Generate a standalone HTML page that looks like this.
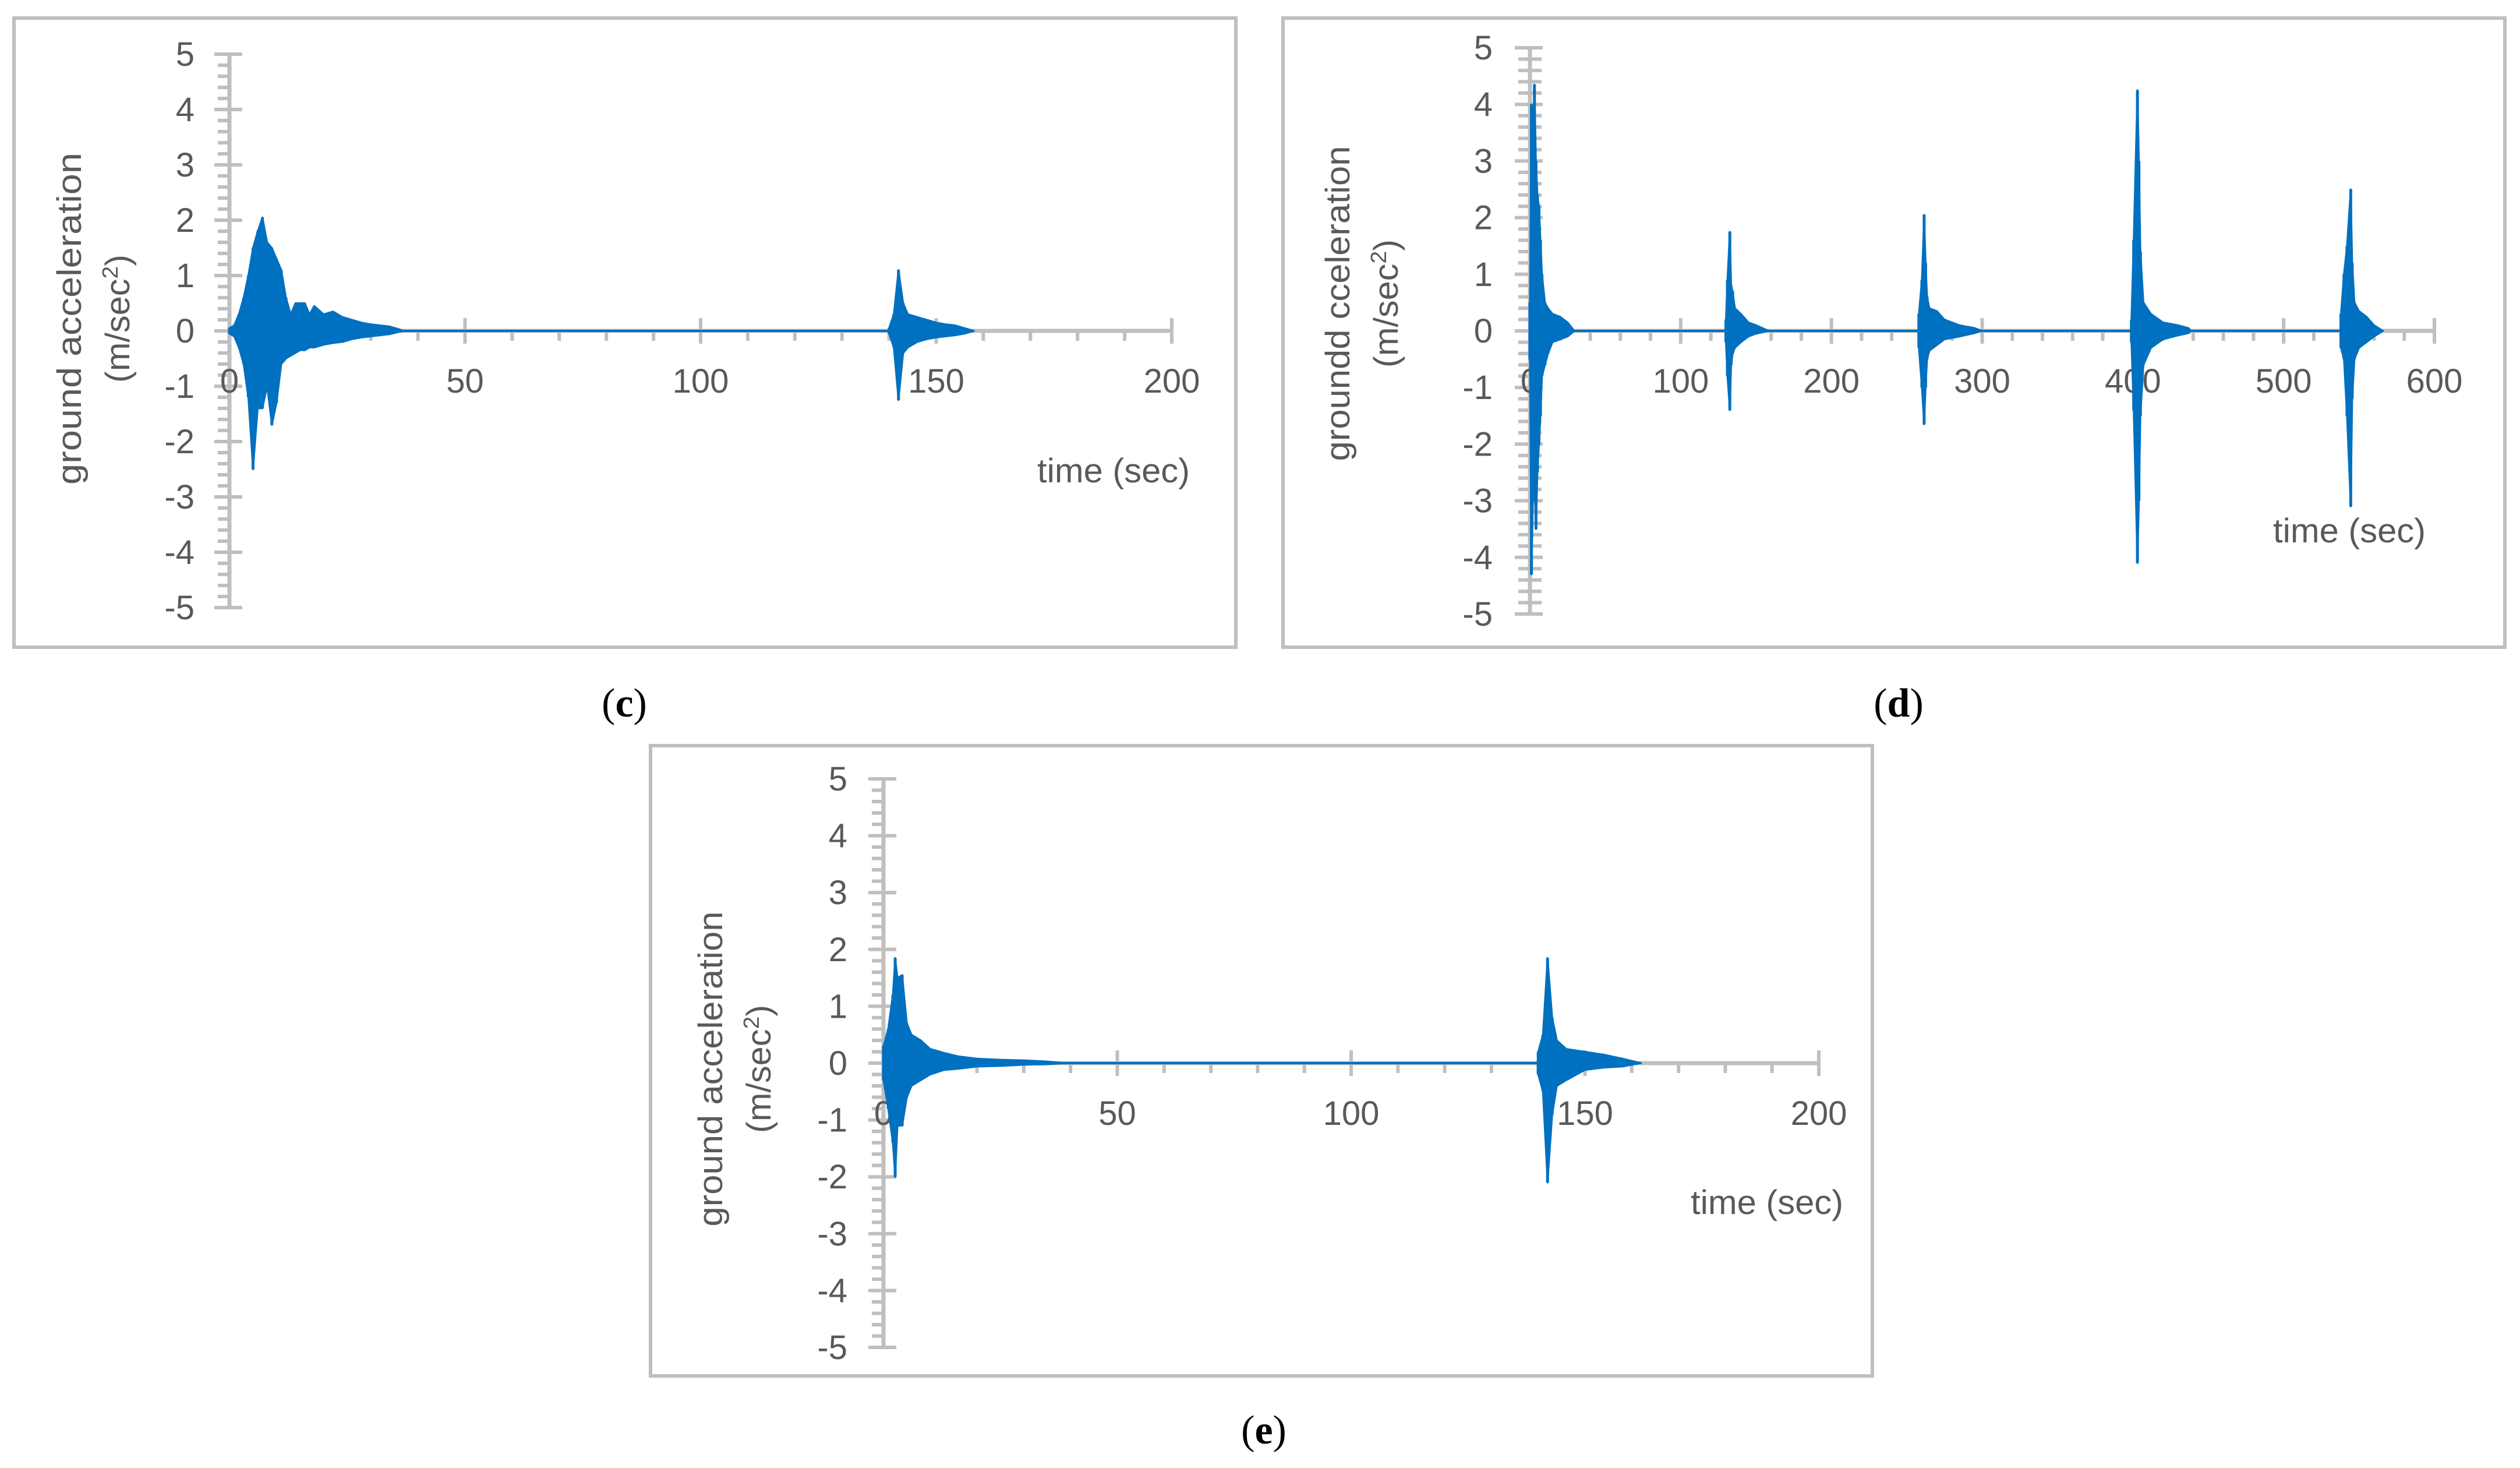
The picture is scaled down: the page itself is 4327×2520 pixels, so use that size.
<!DOCTYPE html>
<html><head><meta charset="utf-8">
<style>
html,body{margin:0;padding:0;background:#fff;}
svg{display:block;}
text{font-family:"Liberation Sans",sans-serif;fill:#595959;}
text.cap{font-family:"Liberation Serif",serif;fill:#000;}
</style></head>
<body>
<svg id="fig" width="4327" height="2520" viewBox="0 0 4327 2520" xmlns="http://www.w3.org/2000/svg">
<rect x="0" y="0" width="4327" height="2520" fill="#fff"/>
<rect x="24" y="31" width="2098" height="1080" fill="none" stroke="#bfbfbf" stroke-width="6"/>
<rect x="2203" y="31" width="2098" height="1080" fill="none" stroke="#bfbfbf" stroke-width="6"/>
<rect x="1117" y="1280" width="2098" height="1082" fill="none" stroke="#bfbfbf" stroke-width="6"/>
<text class="cap" x="1072" y="1230" text-anchor="middle" font-size="70">(<tspan font-weight="bold">c</tspan>)</text>
<text class="cap" x="3260" y="1230" text-anchor="middle" font-size="70">(<tspan font-weight="bold">d</tspan>)</text>
<text class="cap" x="2170" y="2478" text-anchor="middle" font-size="70">(<tspan font-weight="bold">e</tspan>)</text>
<g id="pc"></g>
<g id="pd"></g>
<g id="pe"></g>
</svg>
<script>
// ---- data (envelope of peaks per time bin) ----
const cTimes = [0,1,2,3,4,5,6,7,8,9,10,11,12,13,14,15,16,17,18,20,22,24,26,28,30,32,34,36,37, 140,141,142,143,144,146,148,150,152,154,156,158];
const cMax   = [0.05,0.1,0.3,0.6,1.0,1.5,1.8,2.05,1.6,1.5,1.3,1.1,0.6,0.3,0.5,0.5,0.5,0.3,0.45,0.3,0.35,0.25,0.2,0.15,0.12,0.1,0.08,0.03,0, 0.05,0.3,1.1,0.5,0.3,0.25,0.2,0.15,0.12,0.1,0.05,0];
const cMin   = [-0.05,-0.1,-0.3,-0.6,-1.2,-2.5,-1.4,-1.4,-1.0,-1.7,-1.3,-0.6,-0.5,-0.45,-0.4,-0.35,-0.35,-0.3,-0.3,-0.25,-0.22,-0.2,-0.15,-0.12,-0.1,-0.08,-0.06,-0.02,0, -0.05,-0.3,-1.25,-0.4,-0.3,-0.2,-0.15,-0.12,-0.1,-0.08,-0.05,0];

const dTimes = [0,1,2,3,4,5,6,7,8,10,12,15,20,25,29.5, 130,131,132.6,133.5,134.5,136,140,145,150,158.5, 258,260,261.5,262.5,263.5,265,270,275,285,295,300, 399,400.5,403,404,405,407,412,420,430,437,438.5, 538,540,542,544.5,545.5,547,550,555,560,566];
const dMax   = [0.5,4.0,3.3,4.35,3.0,2.4,2.2,1.6,1.0,0.5,0.4,0.3,0.25,0.15,0, 0.2,0.9,1.75,0.8,0.7,0.4,0.3,0.15,0.1,0, 0.3,0.9,2.05,1.2,0.6,0.4,0.35,0.2,0.1,0.05,0, 0.2,1.6,4.25,3.0,1.4,0.5,0.3,0.15,0.1,0.05,0, 0.3,1.0,1.5,2.5,1.2,0.5,0.35,0.25,0.1,0];
const dMin   = [-0.5,-4.3,-3.0,-2.7,-3.5,-2.5,-2.0,-1.5,-0.8,-0.6,-0.4,-0.2,-0.15,-0.1,0, -0.2,-0.8,-1.4,-0.6,-0.4,-0.3,-0.2,-0.1,-0.05,0, -0.3,-1.0,-1.65,-1.0,-0.5,-0.35,-0.25,-0.15,-0.1,-0.04,0, -0.2,-1.4,-4.1,-3.0,-1.5,-0.6,-0.3,-0.15,-0.08,-0.04,0, -0.3,-0.5,-1.5,-3.1,-1.2,-0.5,-0.3,-0.2,-0.1,0];

const eTimes = [0,1,2,2.5,3,4,5,6,8,10,13,16,20,25,30,35,39, 140,141,142,143,144,146,150,154,158,162];
const eMax   = [0.3,0.6,1.2,1.85,1.5,1.55,0.7,0.5,0.4,0.25,0.18,0.12,0.08,0.06,0.05,0.03,0, 0.2,0.5,1.85,0.8,0.4,0.25,0.2,0.15,0.08,0];
const eMin   = [-0.3,-0.8,-1.4,-2.0,-1.1,-1.1,-0.6,-0.4,-0.3,-0.2,-0.12,-0.1,-0.06,-0.05,-0.03,-0.02,0, -0.2,-0.5,-2.1,-0.9,-0.4,-0.3,-0.12,-0.08,-0.06,0];

const yTicks = [5,4,3,2,1,0,-1,-2,-3,-4,-5];
const cXTicks = [0,50,100,150,200];
const dXTicks = [0,100,200,300,400,500,600];
const eXTicks = [0,50,100,150,200];

const NS = "http://www.w3.org/2000/svg";
function mk(parent, tag, attrs){
  const el = document.createElementNS(NS, tag);
  for (const k in attrs) el.setAttribute(k, attrs[k]);
  parent.appendChild(el);
  return el;
}

function drawPanel(g, P){
  const sx = t => P.x0 + t / P.xmax * (P.x1 - P.x0);
  const sy = v => P.y0 - v / 5 * (P.y0 - P.y5);
  const gray = "#bfbfbf";
  for (let i = -25; i <= 25; i++) {
    if (i % 5 === 0) continue;
    const y = sy(i / 5);
    const t = mk(g, "line", {x1: P.x0 - 20, x2: P.bothMinor ? P.x0 + 20 : P.x0, y1: y, y2: y, stroke: gray, "stroke-width": 6});
    
    
  }
  yTicks.forEach(v => {
    const y = sy(v);
    const t = mk(g, "line", {x1: P.x0 - 26, x2: P.x0 + 22, y1: y, y2: y, stroke: gray, "stroke-width": 6});
    
    
    const lb = mk(g, "text", {x: P.x0 - P.labOff, y: y + 20, "text-anchor": "end", "font-size": 58});
    lb.textContent = String(v);
    
    
  });
  const ya = mk(g, "line", {x1: P.x0, x2: P.x0, y1: sy(5) - 3, y2: sy(-5) + 3, stroke: gray, "stroke-width": 7});
  
  
  const xa = mk(g, "line", {x1: P.x0, x2: P.x1, y1: P.y0, y2: P.y0, stroke: gray, "stroke-width": 7});
  
  
  for (let t = P.minor; t < P.xmax; t += P.minor) {
    if (P.xTicks.includes(t)) continue;
    const x = sx(t);
    const m = mk(g, "line", {x1: x, x2: x, y1: P.y0, y2: P.y0 + 17, stroke: gray, "stroke-width": 6});
    
    
  }
  P.xTicks.forEach(v => {
    const x = sx(v);
    const m = mk(g, "line", {x1: x, x2: x, y1: P.y0 - 22, y2: P.y0 + 22, stroke: gray, "stroke-width": 6});
    
    
    const lb = mk(g, "text", {x: x, y: P.y0 + 106, "text-anchor": "middle", "font-size": 58});
    lb.textContent = v;
    
    
  });
  const T = P.times, MX = P.maxs, MN = P.mins;
  const zl = mk(g, "line", {x1: sx(0), x2: sx(T[T.length - 1]), y1: P.y0, y2: P.y0, stroke: "#0070c0", "stroke-width": 4});
  
  
  let start = 0;
  for (let i = 1; i <= T.length; i++) {
    if (i === T.length || T[i] - T[i - 1] > 20) {
      let pts = [];
      for (let j = start; j < i; j++) pts.push(sx(T[j]) + "," + sy(MX[j]));
      for (let j = i - 1; j >= start; j--) pts.push(sx(T[j]) + "," + sy(MN[j]));
      const poly = mk(g, "polygon", {points: pts.join(" "), fill: "#0070c0", stroke: "#0070c0", "stroke-width": 3, "stroke-linejoin": "round"});
      
      
      start = i;
    }
  }
  for (let j = 0; j < T.length; j++) {
    const s = mk(g, "line", {x1: sx(T[j]), x2: sx(T[j]), y1: sy(MX[j]), y2: sy(MN[j]), stroke: "#0070c0", "stroke-width": 5});
    
    
  }
  const t1 = mk(g, "text", {transform: `translate(${P.t1x},${P.tcy}) rotate(-90)`, "text-anchor": "middle", "font-size": 58, textLength: P.t1len, lengthAdjust: "spacingAndGlyphs"});
  t1.textContent = P.title;
  
  
  const t2 = mk(g, "text", {transform: `translate(${P.t2x},${P.tcy}) rotate(-90)`, "text-anchor": "middle", "font-size": 58, textLength: 220, lengthAdjust: "spacingAndGlyphs"});
  t2.innerHTML = '(m/sec<tspan font-size="38" dy="-20">2</tspan><tspan dy="20">)</tspan>';
  
  
  const xt = mk(g, "text", {x: P.xtEnd, y: P.xtY, "text-anchor": "end", "font-size": 58, textLength: 262, lengthAdjust: "spacingAndGlyphs"});
  xt.textContent = "time (sec)";
  
  
}

drawPanel(document.getElementById("pc"), {x0: 394, x1: 2012, xmax: 200, y0: 568, y5: 93, minor: 10, xTicks: cXTicks, bothMinor: false, labOff: 60,
  times: cTimes, maxs: cMax, mins: cMin, title: "ground acceleration", t1x: 139, t2x: 222, tcy: 547, t1len: 570,
  xtEnd: 2043, xtY: 828});
drawPanel(document.getElementById("pd"), {x0: 2627, x1: 4180, xmax: 600, y0: 568, y5: 82, minor: 20, xTicks: dXTicks, bothMinor: true, labOff: 64,
  times: dTimes, maxs: dMax, mins: dMin, title: "groundd cceleration", t1x: 2317, t2x: 2400, tcy: 521, t1len: 541,
  xtEnd: 4165, xtY: 931});
drawPanel(document.getElementById("pe"), {x0: 1517, x1: 3123, xmax: 200, y0: 1825, y5: 1337, minor: 10, xTicks: eXTicks, bothMinor: false, labOff: 62,
  times: eTimes, maxs: eMax, mins: eMin, title: "ground acceleration", t1x: 1240, t2x: 1323, tcy: 1835, t1len: 541,
  xtEnd: 3165, xtY: 2084});
</script>
</body></html>
